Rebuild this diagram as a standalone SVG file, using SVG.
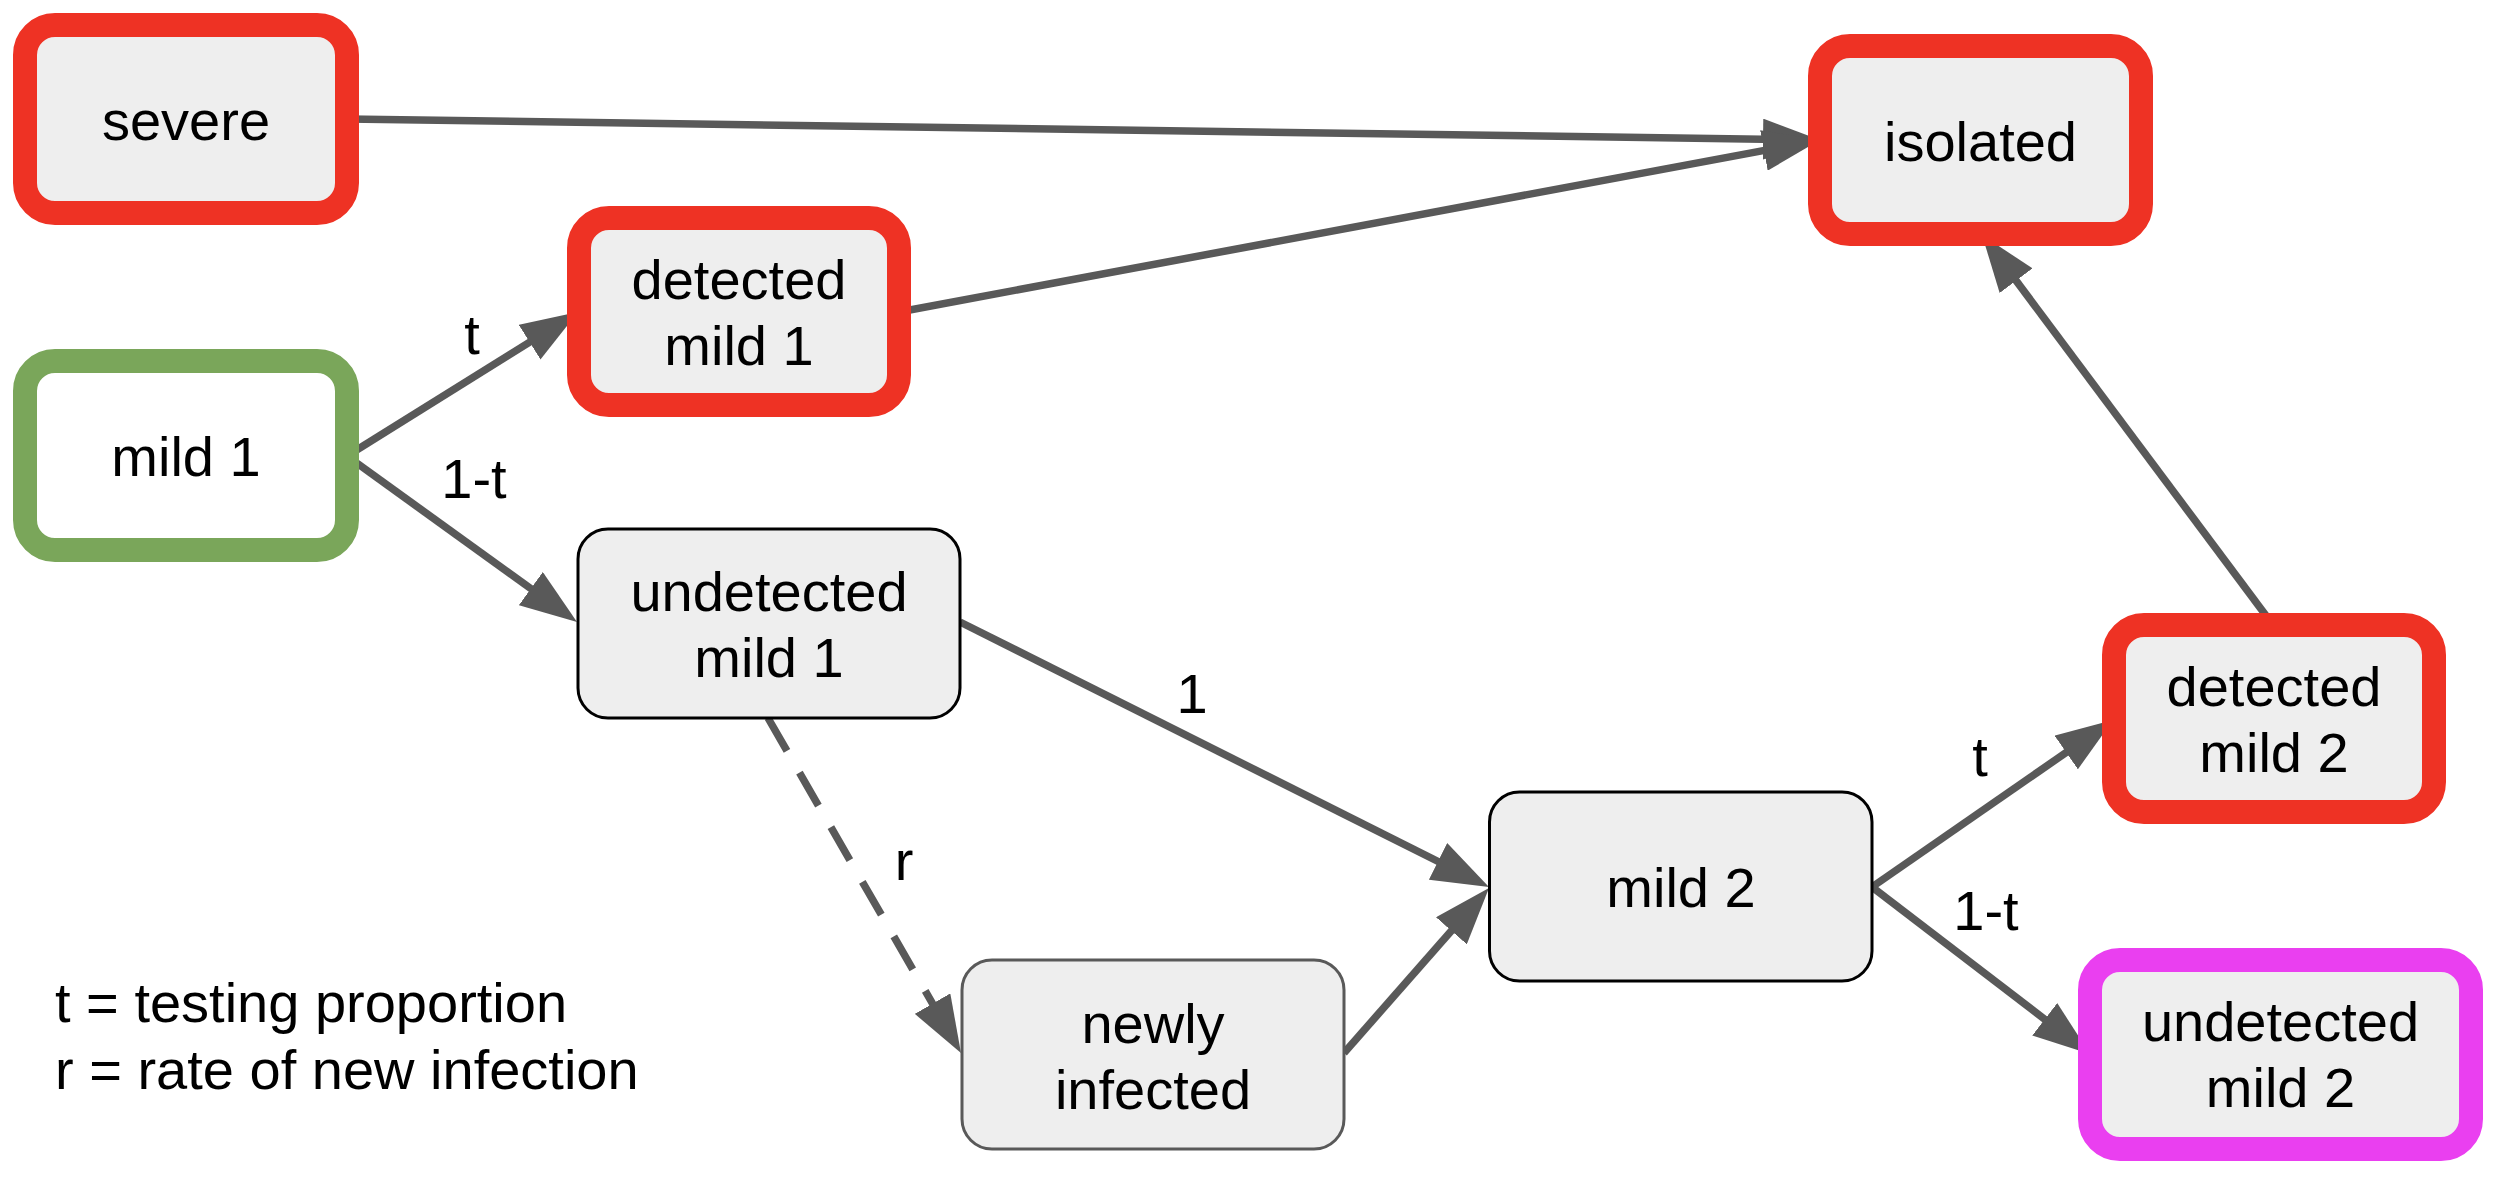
<svg xmlns="http://www.w3.org/2000/svg" width="2514" height="1194" viewBox="0 0 2514 1194">
<style>
.thick{stroke-width:24;fill:#eeeeee}
.red{stroke:#ee3224}
.green{stroke:#7aa65a;fill:#ffffff}
.mag{stroke:#ea3ff0}
.thin{fill:#eeeeee;stroke:#000000;stroke-width:3}
.grey{stroke:#595959}
text{font-family:"Liberation Sans",Arial,sans-serif;font-size:56px;fill:#000000}
.c{text-anchor:middle}
.edge{stroke:#595959;stroke-width:7.5;fill:none;marker-end:url(#ah)}
.dash{stroke-dasharray:38 25}
</style>
<defs>
<marker id="ah" markerUnits="userSpaceOnUse" markerWidth="57" markerHeight="41" refX="37" refY="20.5" orient="auto" viewBox="0 0 57 41">
<path d="M0,0 L57,20.5 L0,41 z" fill="#595959"/>
</marker>
</defs>
<g id="connectors">
<line class="edge" x1="347" y1="119" x2="1800" y2="139.7"/>
<line class="edge" x1="899" y1="312" x2="1800.3" y2="143.7"/>
<line class="edge" x1="347" y1="456" x2="561" y2="322.6"/>
<line class="edge" x1="347" y1="456" x2="560.8" y2="610.3"/>
<line class="edge" x1="960" y1="622" x2="1471.1" y2="878"/>
<line class="edge dash" x1="768" y1="718" x2="951" y2="1035.7"/>
<line class="edge" x1="1344" y1="1053" x2="1475.8" y2="903"/>
<line class="edge" x1="1872" y1="887" x2="2096.6" y2="731.4"/>
<line class="edge" x1="1872" y1="887" x2="2074.1" y2="1041.8"/>
<line class="edge" x1="2273" y1="625" x2="1994" y2="251"/>
<text class="c" x="472" y="354">t</text>
<text class="c" x="474" y="498">1-t</text>
<text class="c" x="1192" y="713">1</text>
<text class="c" x="904" y="880">r</text>
<text class="c" x="1980" y="776">t</text>
<text class="c" x="1986" y="930">1-t</text>
</g>
<g id="severe">
<rect class="thick red" x="25" y="25" width="322" height="188" rx="30"/>
<text class="c" x="186" y="140">severe</text>
</g>
<g id="isolated">
<rect class="thick red" x="1820" y="46" width="321" height="188" rx="30"/>
<text class="c" x="1980.5" y="161">isolated</text>
</g>
<g id="detected-mild-1">
<rect class="thick red" x="579" y="218" width="320" height="187" rx="30"/>
<text class="c" x="739" y="299">detected</text>
<text class="c" x="739" y="365">mild 1</text>
</g>
<g id="mild-1">
<rect class="thick green" x="25" y="361" width="322" height="189" rx="30"/>
<text class="c" x="186" y="476">mild 1</text>
</g>
<g id="undetected-mild-1">
<rect class="thin" x="578" y="529" width="382" height="189" rx="30"/>
<text class="c" x="769" y="611">undetected</text>
<text class="c" x="769" y="677">mild 1</text>
</g>
<g id="newly-infected">
<rect class="thin grey" x="962" y="960" width="382" height="189" rx="30"/>
<text class="c" x="1153" y="1043">newly</text>
<text class="c" x="1153" y="1109">infected</text>
</g>
<g id="mild-2">
<rect class="thin" x="1489.5" y="792" width="382.5" height="189" rx="30"/>
<text class="c" x="1681" y="907">mild 2</text>
</g>
<g id="detected-mild-2">
<rect class="thick red" x="2114" y="625" width="320" height="187" rx="30"/>
<text class="c" x="2274" y="706">detected</text>
<text class="c" x="2274" y="772">mild 2</text>
</g>
<g id="undetected-mild-2">
<rect class="thick mag" x="2090" y="960" width="381" height="189" rx="30"/>
<text class="c" x="2280.5" y="1041">undetected</text>
<text class="c" x="2280.5" y="1107">mild 2</text>
</g>
<g id="legend">
<text x="55" y="1022">t = testing proportion</text>
<text x="55" y="1089">r = rate of new infection</text>
</g>
</svg>
